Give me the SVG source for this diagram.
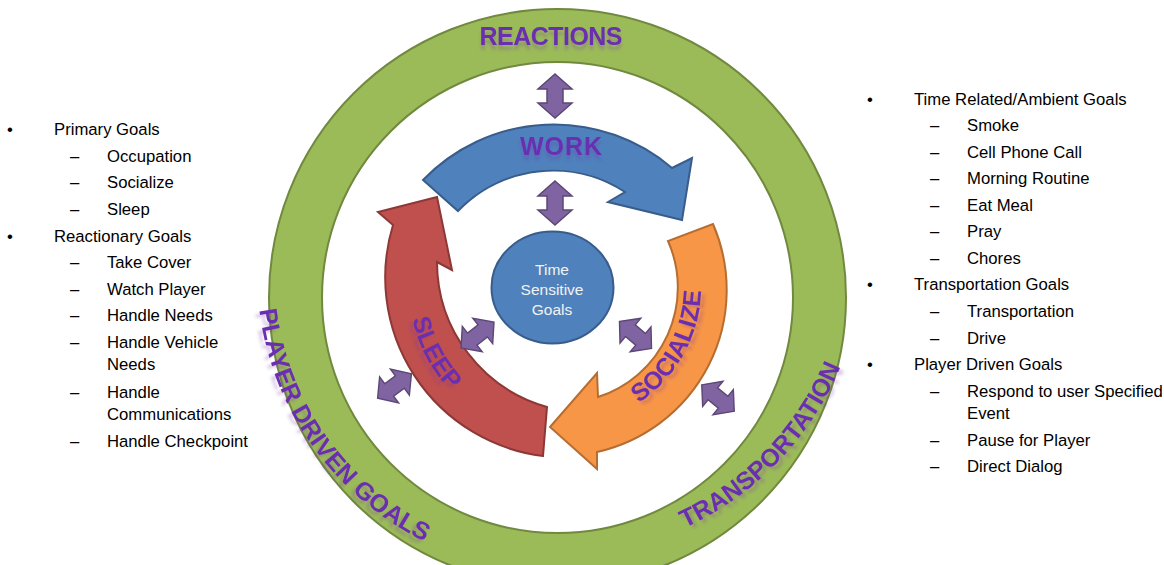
<svg xmlns="http://www.w3.org/2000/svg" xmlns:xlink="http://www.w3.org/1999/xlink" width="1164" height="565" viewBox="0 0 1164 565">
<style>
.ringband{fill:none;stroke:#9BBB59;stroke-width:53}
.ringedge{fill:none;stroke:#71893F;stroke-width:2}
.blue{fill:#4F81BD;stroke:#385D8A;stroke-width:2;stroke-linejoin:miter}
.red{fill:#C0504D;stroke:#8C3836;stroke-width:2}
.orange{fill:#F79646;stroke:#B66D31;stroke-width:2}
.circ{fill:#4F81BD;stroke:#385D8A;stroke-width:2}
.dbl{fill:#8064A2;stroke:#5C4776;stroke-width:1.5;stroke-linejoin:miter}
.lbl{font-family:"Liberation Sans",Arial,sans-serif;font-weight:bold;font-size:25px;fill:#6B2FB0}
.ctr{font-family:"Liberation Sans",Arial,sans-serif;font-size:15.5px;fill:#F2F2F2;text-anchor:middle}
.list{font-family:"Liberation Sans",Arial,sans-serif;font-size:16.7px;fill:#000}
</style>
<defs>
<path id="dbl" d="M -22,0 L -7,-17 L -7,-8 L 7,-8 L 7,-17 L 22,0 L 7,17 L 7,8 L -7,8 L -7,17 Z"/>
<filter id="reflD" x="-10%" y="-30%" width="120%" height="180%">
<feGaussianBlur in="SourceAlpha" stdDeviation="1.5"/><feOffset dy="5" result="b"/>
<feFlood flood-color="#7030A0" flood-opacity="0.25"/><feComposite in2="b" operator="in"/>
<feMerge><feMergeNode/><feMergeNode in="SourceGraphic"/></feMerge></filter>
<filter id="reflL" x="-20%" y="-20%" width="140%" height="140%">
<feGaussianBlur in="SourceAlpha" stdDeviation="1.5"/><feOffset dx="-4" dy="3" result="b"/>
<feFlood flood-color="#7030A0" flood-opacity="0.25"/><feComposite in2="b" operator="in"/>
<feMerge><feMergeNode/><feMergeNode in="SourceGraphic"/></feMerge></filter>
<filter id="reflR" x="-20%" y="-20%" width="140%" height="140%">
<feGaussianBlur in="SourceAlpha" stdDeviation="1.5"/><feOffset dx="4" dy="3" result="b"/>
<feFlood flood-color="#7030A0" flood-opacity="0.25"/><feComposite in2="b" operator="in"/>
<feMerge><feMergeNode/><feMergeNode in="SourceGraphic"/></feMerge></filter>
<path id="pSleep" d="M 415.6,243.1 A 150 150 0 0 0 515.1,430.4"/>
<path id="pSoc" d="M 598,421.3 A 139 139 0 0 0 694.9,246.4"/>
<path id="pPlayer" d="M 275.1,169.2 A 300.5 300.5 0 0 0 562.7,572.5"/>
<path id="pTrans" d="M 504.3,550.8 A 306.5 306.5 0 0 0 857.3,185.3"/>
</defs>

<g id="ring">
<circle class="ringband" cx="557.5" cy="297.5" r="262"/>
<circle class="ringedge" cx="557.5" cy="297.5" r="288.5"/>
<circle class="ringedge" cx="557.5" cy="297.5" r="235.5"/>
<text class="lbl" x="551" y="45" text-anchor="middle" textLength="143" filter="url(#reflD)">REACTIONS</text>
<text class="lbl" filter="url(#reflL)"><textPath href="#pPlayer" startOffset="50%" text-anchor="middle">PLAYER DRIVEN GOALS</textPath></text>
<text class="lbl" filter="url(#reflR)"><textPath href="#pTrans" startOffset="50%" text-anchor="middle">TRANSPORTATION</textPath></text>
</g>

<g id="work">
<path class="blue" d="M 423,180 A 182 182 0 0 1 672,168 L 692,158 L 682,220 L 608,202 L 625,192 A 132 132 0 0 0 458,211 Z"/>
<text class="lbl" x="561" y="155" text-anchor="middle" textLength="82" filter="url(#reflD)">WORK</text>
</g>

<g id="sleep">
<path class="red" d="M 543,456 A 180 180 0 0 1 393,225 L 378,212 L 437,197 L 452,270 L 437,262 A 151 151 0 0 0 547,407 Z"/>
<text class="lbl" font-size="24" filter="url(#reflL)"><textPath href="#pSleep" startOffset="50%" text-anchor="middle">SLEEP</textPath></text>
</g>

<g id="socialize">
<path class="orange" d="M 713,224 A 166 166 0 0 1 597,452 L 597,469 L 550,427 L 597,373 L 598,397 A 115 115 0 0 0 668,241 Z"/>
<text class="lbl" font-size="24" filter="url(#reflR)"><textPath href="#pSoc" startOffset="50%" text-anchor="middle">SOCIALIZE</textPath></text>
</g>

<g id="time-sensitive">
<ellipse class="circ" cx="552.5" cy="287.5" rx="61" ry="56"/>
<text class="ctr" x="552" y="275">Time</text>
<text class="ctr" x="552" y="295">Sensitive</text>
<text class="ctr" x="552" y="315">Goals</text>
</g>

<g id="connectors">
<use href="#dbl" class="dbl" transform="translate(555,96) rotate(90)"/>
<use href="#dbl" class="dbl" transform="translate(555,203) rotate(90)"/>
<use href="#dbl" class="dbl" transform="translate(477.5,335) rotate(-38) scale(0.95)"/>
<use href="#dbl" class="dbl" transform="translate(394.5,386) rotate(-36) scale(0.95)"/>
<use href="#dbl" class="dbl" transform="translate(635.5,335) rotate(40) scale(0.95)"/>
<use href="#dbl" class="dbl" transform="translate(718,398) rotate(39) scale(0.95)"/>
</g>

<g id="left-list" class="list">
<text x="7" y="135">•</text><text x="54" y="135">Primary Goals</text>
<text x="70" y="161.7">–</text><text x="107" y="161.7">Occupation</text>
<text x="70" y="188.3">–</text><text x="107" y="188.3">Socialize</text>
<text x="70" y="215">–</text><text x="107" y="215">Sleep</text>
<text x="7" y="241.5">•</text><text x="54" y="241.5">Reactionary Goals</text>
<text x="70" y="268.3">–</text><text x="107" y="268.3">Take Cover</text>
<text x="70" y="294.5">–</text><text x="107" y="294.5">Watch Player</text>
<text x="70" y="321">–</text><text x="107" y="321">Handle Needs</text>
<text x="70" y="347.7">–</text><text x="107" y="347.7">Handle Vehicle</text>
<text x="107" y="370">Needs</text>
<text x="70" y="397.5">–</text><text x="107" y="397.5">Handle</text>
<text x="107" y="420">Communications</text>
<text x="70" y="446.5">–</text><text x="107" y="446.5">Handle Checkpoint</text>
</g>

<g id="right-list" class="list">
<text x="867" y="104.5">•</text><text x="914" y="104.5">Time Related/Ambient Goals</text>
<text x="930" y="131">–</text><text x="967" y="131">Smoke</text>
<text x="930" y="157.5">–</text><text x="967" y="157.5">Cell Phone Call</text>
<text x="930" y="184">–</text><text x="967" y="184">Morning Routine</text>
<text x="930" y="210.5">–</text><text x="967" y="210.5">Eat Meal</text>
<text x="930" y="237">–</text><text x="967" y="237">Pray</text>
<text x="930" y="263.5">–</text><text x="967" y="263.5">Chores</text>
<text x="867" y="290.3">•</text><text x="914" y="290.3">Transportation Goals</text>
<text x="930" y="317">–</text><text x="967" y="317">Transportation</text>
<text x="930" y="343.5">–</text><text x="967" y="343.5">Drive</text>
<text x="867" y="370.2">•</text><text x="914" y="370.2">Player Driven Goals</text>
<text x="930" y="396.8">–</text><text x="967" y="396.8">Respond to user Specified</text>
<text x="967" y="419.2">Event</text>
<text x="930" y="445.8">–</text><text x="967" y="445.8">Pause for Player</text>
<text x="930" y="472.4">–</text><text x="967" y="472.4">Direct Dialog</text>
</g>
</svg>
